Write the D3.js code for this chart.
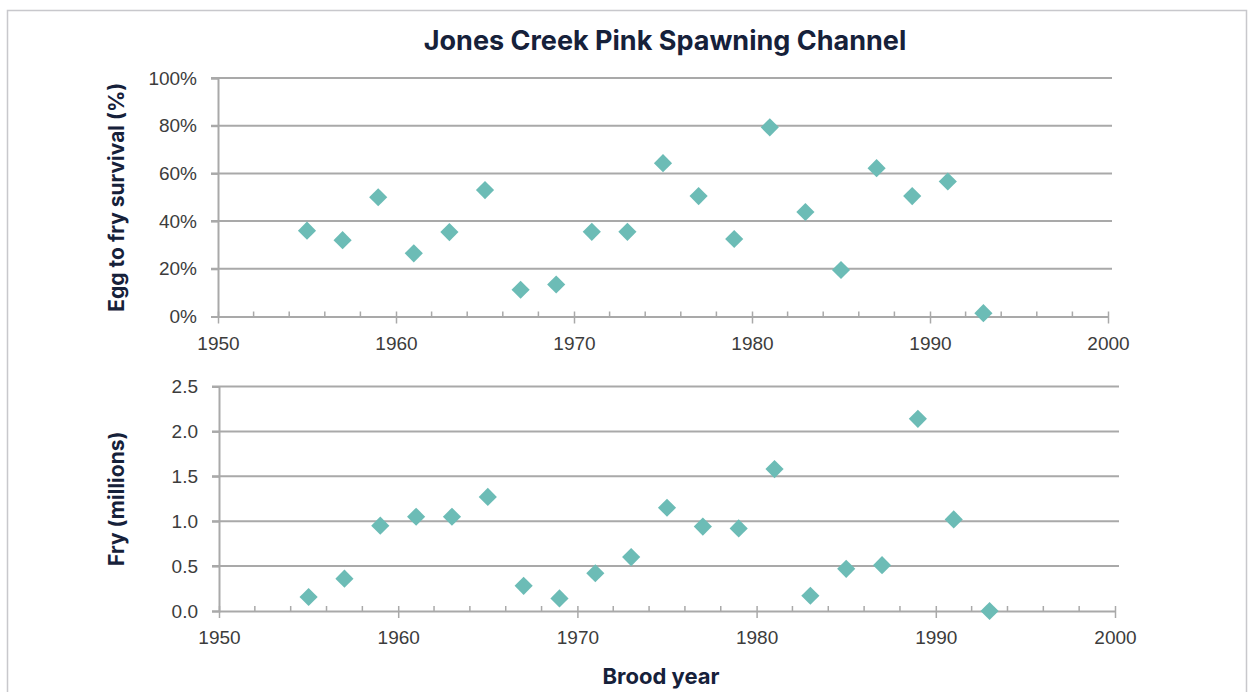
<!DOCTYPE html>
<html>
<head>
<meta charset="utf-8">
<script src="https://cdn.jsdelivr.net/npm/d3@7"></script>
<style>
  body { margin: 0; background: #fff; }
  svg { display: block; font-family: Inter, "Noto Sans", sans-serif; }
  .tick text { fill: #3c3c3c; font-size: 19px; font-weight: 300; }
  .title { fill: #16213a; font-weight: 700; }
</style>
</head>
<body>
<svg id="svg" width="1249" height="692"></svg>
<script>
// brood years (odd-year pink runs)
const years = [1955, 1957, 1959, 1961, 1963, 1965, 1967, 1969, 1971, 1973,
               1975, 1977, 1979, 1981, 1983, 1985, 1987, 1989, 1991, 1993];
// egg to fry survival, fraction
const survival = [0.36, 0.32, 0.50, 0.265, 0.354, 0.53, 0.112, 0.134, 0.355, 0.355,
                  0.643, 0.505, 0.325, 0.793, 0.438, 0.195, 0.622, 0.505, 0.566, 0.014];
// fry produced, millions
const fry = [0.156, 0.36, 0.95, 1.05, 1.05, 1.27, 0.28, 0.14, 0.42, 0.60,
             1.15, 0.94, 0.92, 1.58, 0.17, 0.47, 0.51, 2.14, 1.02, 0.0];

const xTicks = [1950, 1960, 1970, 1980, 1990, 2000];
const pctTicks = [0, 0.2, 0.4, 0.6, 0.8, 1.0];
const fryTicks = [0, 0.5, 1.0, 1.5, 2.0, 2.5];

const svg = d3.select('#svg');
const gridColor = '#a9a9a9';
const markColor = '#6cbcb6';

// frame
svg.append('path')
    .attr('d', 'M7.5,700 V10.5 H1246.5 V700')
    .attr('fill', 'none')
    .attr('stroke', '#c8c8cc')
    .attr('stroke-width', 1.5);

svg.append('text')
    .attr('class', 'title')
    .attr('x', 665).attr('y', 50)
    .attr('text-anchor', 'middle')
    .style('font-size', '27px')
    .text('Jones Creek Pink Spawning Channel');

function panel(opts) {
    const x = d3.scaleLinear().domain([1950, 2000]).range([opts.left, opts.right]);
    const y = d3.scaleLinear().domain(opts.domain).range([opts.bottom, opts.top]);
    const g = svg.append('g');

    // gridlines
    g.selectAll('.grid').data(opts.yTicks.slice(1)).enter()
        .append('line')
        .attr('x1', opts.left - 7).attr('x2', opts.gridRight)
        .attr('y1', d => y(d)).attr('y2', d => y(d))
        .attr('stroke', gridColor).attr('stroke-width', 2);

    // y axis
    const yAxis = g.append('g')
        .attr('transform', 'translate(' + opts.left + ',0)')
        .call(d3.axisLeft(y).tickValues(opts.yTicks).tickFormat(opts.fmt).tickSize(7).tickPadding(14));
    yAxis.selectAll('line, path').attr('stroke', gridColor).attr('stroke-width', 2);

    // x axis: minor ticks inside, major ticks crossing
    const xAxis = g.append('g')
        .attr('transform', 'translate(0,' + opts.bottom + ')')
        .call(d3.axisBottom(x).tickValues(xTicks).tickFormat(d3.format('d')).tickSize(7).tickSizeOuter(0).tickPadding(13));
    xAxis.select('.domain').attr('stroke', gridColor).attr('stroke-width', 2);
    xAxis.selectAll('.tick line').attr('stroke', gridColor).attr('stroke-width', 1.5).attr('y1', -5);
    g.selectAll('.minor').data(d3.range(1952, 2000, 2).filter(d => d % 10 !== 0)).enter()
        .append('line')
        .attr('x1', d => x(d)).attr('x2', d => x(d))
        .attr('y1', opts.bottom - 5).attr('y2', opts.bottom)
        .attr('stroke', gridColor).attr('stroke-width', 1.5);

    // markers
    const diamond = d3.symbol().type(d3.symbolSquare).size(165);
    g.selectAll('.pt').data(years).enter()
        .append('path')
        .attr('d', diamond)
        .attr('transform', (d, i) => 'translate(' + x(d) + ',' + y(opts.values[i]) + ') rotate(45)')
        .attr('fill', markColor);

    svg.append('text')
        .attr('class', 'title')
        .attr('transform', 'translate(124,' + ((opts.top + opts.bottom) / 2) + ') rotate(-90)')
        .attr('text-anchor', 'middle')
        .style('font-size', '21px')
        .text(opts.label);
}

panel({
    left: 218, right: 1108, gridRight: 1112, top: 78, bottom: 316.5,
    domain: [0, 1], yTicks: pctTicks, fmt: d3.format('.0%'), values: survival,
    label: 'Egg to fry survival (%)'
});

panel({
    left: 219, right: 1115, gridRight: 1119, top: 386.5, bottom: 611,
    domain: [0, 2.5], yTicks: fryTicks, fmt: d3.format('.1f'), values: fry,
    label: 'Fry (millions)'
});

svg.append('text')
    .attr('class', 'title')
    .attr('x', 661).attr('y', 684)
    .attr('text-anchor', 'middle')
    .style('font-size', '22px')
    .text('Brood year');
</script>
</body>
</html>
